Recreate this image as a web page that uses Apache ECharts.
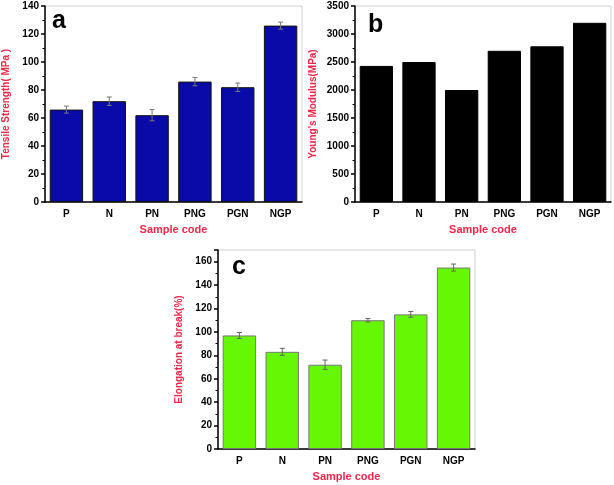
<!DOCTYPE html>
<html>
<head>
<meta charset="utf-8">
<script src="https://cdn.jsdelivr.net/npm/echarts@6/dist/echarts.min.js"></script>
<style>
html,body{margin:0;padding:0;background:#fff;}
#main{width:614px;height:485px;}
</style>
</head>
<body>
<div id="main"></div>
<script>
const categories = ['P', 'N', 'PN', 'PNG', 'PGN', 'NGP'];
const tensileValues = [66, 72, 62, 86, 82, 126];
const tensileErrors = [2.5, 3, 4, 3, 3, 2.5];
const modulusValues = [2430, 2500, 2000, 2700, 2780, 3200];
const elongationValues = [97, 83, 72, 110, 115, 155];
const elongationErrors = [2.5, 3, 4, 1.5, 2.5, 3];
const panelLetters = ['a', 'b', 'c'];
const yTitles = ['Tensile Strength( MPa )', "Young's Modulus(MPa)", 'Elongation at break(%)'];
const xTitle = 'Sample code';

const RED = '#f0284a';
const FONT = 'Liberation Sans, Arial, sans-serif';

const grids = [
  {left: 41, top: 6, width: 261, height: 196},
  {left: 355, top: 6, width: 256, height: 196},
  {left: 218, top: 250, width: 257, height: 199}
];
const yCfg = [
  {max: 140, interval: 20, showMax: true},
  {max: 3500, interval: 500, showMax: true},
  {max: 170, interval: 20, showMax: false}
];

const chart = echarts.init(document.getElementById('main'), null, {renderer: 'canvas'});

const xAxis = [], yAxis = [], series = [], grid = [];
grids.forEach((g, i) => {
  grid.push(Object.assign({show: true, borderColor: '#d0d0d0', borderWidth: 1, backgroundColor: 'transparent'}, g));
  xAxis.push({
    type: 'category', gridIndex: i, data: categories,
    name: xTitle, nameLocation: 'middle', nameGap: 22,
    nameTextStyle: {color: RED, fontWeight: 'bold', fontSize: 11, fontFamily: FONT},
    axisLine: {lineStyle: {color: '#000', width: 1.5}},
    axisTick: {alignWithLabel: true, length: 4, lineStyle: {color: '#000', width: 1.5}},
    axisLabel: {color: '#000', fontWeight: 'bold', fontSize: 10, fontFamily: FONT, margin: 7},
    splitLine: {show: false}
  });
  // boundary minor ticks
  xAxis.push({
    type: 'category', gridIndex: i, data: categories, position: 'bottom',
    axisLine: {show: false},
    axisTick: {alignWithLabel: false, length: 2, lineStyle: {color: '#000', width: 1}},
    axisLabel: {show: false}, splitLine: {show: false}
  });
  yAxis.push({
    type: 'value', gridIndex: i, min: 0, max: yCfg[i].max, interval: yCfg[i].interval,
    name: yTitles[i], nameLocation: 'middle', nameGap: i === 1 ? 37 : 34,
    nameTextStyle: {color: RED, fontWeight: 'bold', fontSize: 10, fontFamily: FONT},
    axisLine: {show: true, lineStyle: {color: '#000', width: 1.5}},
    axisTick: {show: true, length: 4, lineStyle: {color: '#000', width: 1.5}},
    minorTick: {show: true, splitNumber: 2, length: 2.5, lineStyle: {color: '#000', width: 1}},
    axisLabel: {color: '#000', fontWeight: 'bold', fontSize: 10, fontFamily: FONT, margin: 6,
      showMaxLabel: yCfg[i].showMax, formatter: v => String(v)},
    splitLine: {show: false}
  });
});

const barStyles = [
  {color: '#0a0aa8', borderColor: '#111', borderWidth: 1},
  {color: '#000000', borderColor: '#000', borderWidth: 1},
  {color: '#66f705', borderColor: '#777', borderWidth: 1}
];
const dataSets = [tensileValues, modulusValues, elongationValues];
const errSets = [tensileErrors, null, elongationErrors];
const errColors = ['#777', null, '#666'];

dataSets.forEach((vals, i) => {
  series.push({
    type: 'bar', xAxisIndex: i * 2, yAxisIndex: i, data: vals,
    barCategoryGap: '22%', itemStyle: barStyles[i], silent: true, animation: false
  });
  if (errSets[i]) {
    const errs = errSets[i];
    series.push({
      type: 'custom', xAxisIndex: i * 2, yAxisIndex: i, animation: false, silent: true,
      data: vals.map((v, k) => [k, v - errs[k], v + errs[k]]),
      renderItem: function (params, api) {
        const lo = api.coord([api.value(0), api.value(1)]);
        const hi = api.coord([api.value(0), api.value(2)]);
        const hw = 2.5;
        const st = {stroke: errColors[i], lineWidth: 1};
        return {type: 'group', children: [
          {type: 'line', shape: {x1: hi[0], y1: hi[1], x2: lo[0], y2: lo[1]}, style: st},
          {type: 'line', shape: {x1: hi[0] - hw, y1: hi[1], x2: hi[0] + hw, y2: hi[1]}, style: st},
          {type: 'line', shape: {x1: lo[0] - hw, y1: lo[1], x2: lo[0] + hw, y2: lo[1]}, style: st}
        ]};
      },
      z: 5
    });
  }
});

const letterPos = [{left: 52, top: 9}, {left: 368, top: 13}, {left: 232, top: 255}];
const graphic = panelLetters.map((t, i) => ({
  type: 'text', left: letterPos[i].left, top: letterPos[i].top,
  style: {text: t, fill: '#000', font: 'bold 25px ' + FONT}
}));

chart.setOption({
  animation: false,
  grid: grid, xAxis: xAxis, yAxis: yAxis, series: series, graphic: graphic
});
</script>
</body>
</html>
